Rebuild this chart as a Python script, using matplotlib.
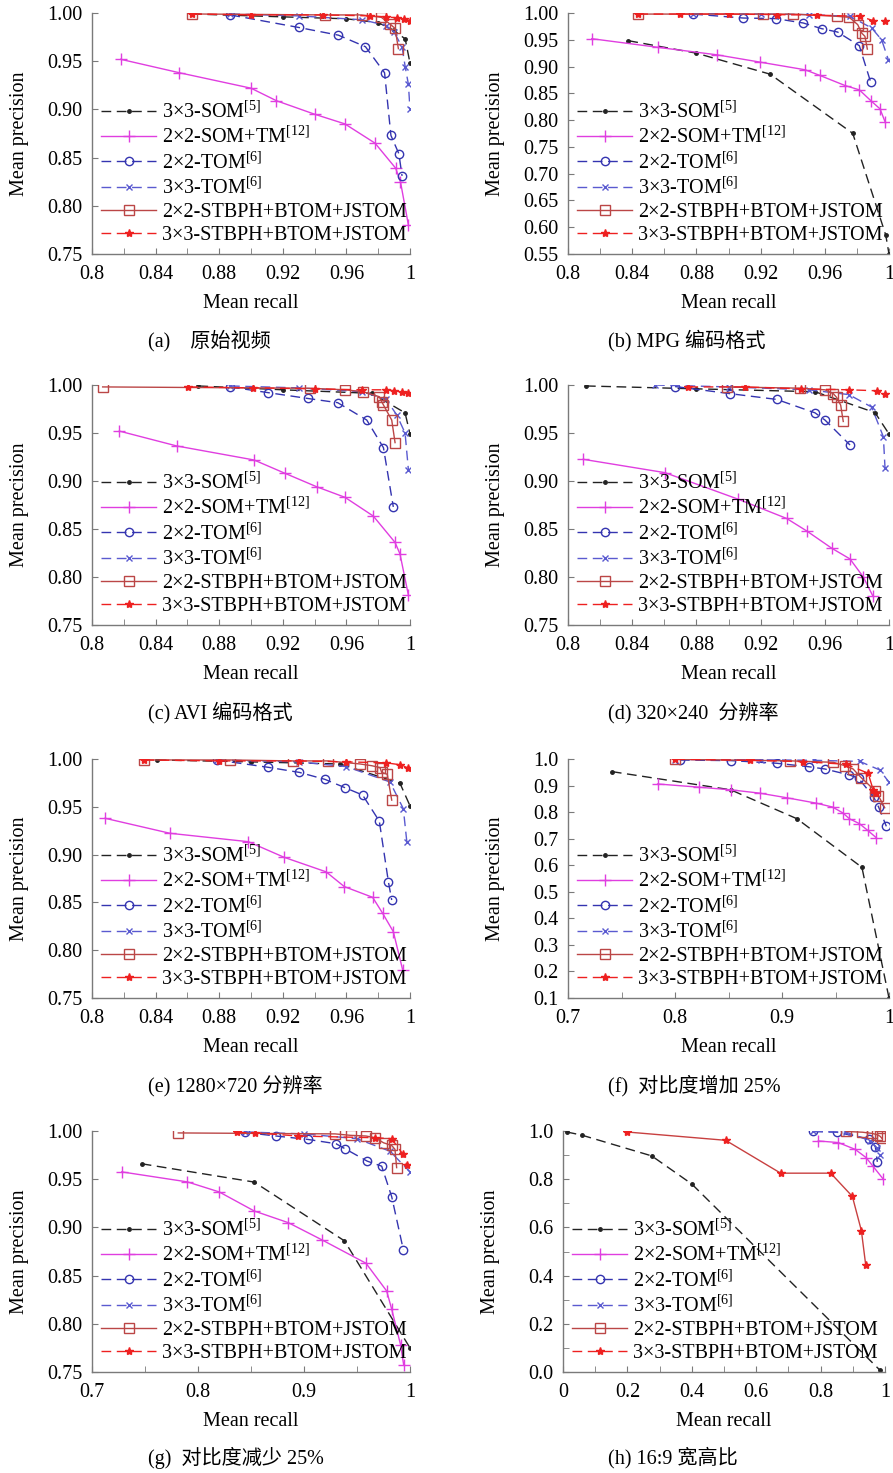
import matplotlib
matplotlib.use("Agg")
import matplotlib.pyplot as plt
from matplotlib.lines import Line2D
from matplotlib.ticker import MultipleLocator, FuncFormatter, FormatStrFormatter

plt.rcParams["font.family"] = ["Liberation Serif", "Noto Sans CJK SC"]
plt.rcParams["mathtext.fontset"] = "custom"
plt.rcParams["mathtext.rm"] = "Liberation Serif"
plt.rcParams["mathtext.it"] = "Liberation Serif:italic"

# -------------------------
# Series labels
# -------------------------
labels = [
    r"3×3-SOM$^{\mathrm{[5]}}$",
    r"2×2-SOM+TM$^{\mathrm{[12]}}$",
    r"2×2-TOM$^{\mathrm{[6]}}$",
    r"3×3-TOM$^{\mathrm{[6]}}$",
    "2×2-STBPH+BTOM+JSTOM",
    "3×3-STBPH+BTOM+JSTOM",
]

captions = [
    "(a)    原始视频", "(b) MPG 编码格式",
    "(c) AVI 编码格式", "(d) 320×240  分辨率",
    "(e) 1280×720 分辨率", "(f)  对比度增加 25%",
    "(g)  对比度减少 25%", "(h) 16:9 宽高比",
]

# -------------------------
# Data: (recall, precision) per panel and series
# -------------------------
a_som = ([0.863, 0.92, 0.96, 0.98, 0.99, 0.997, 1.0],
         [0.999, 0.996, 0.994, 0.99, 0.982, 0.973, 0.948])
a_somtm = ([0.818, 0.855, 0.900, 0.916, 0.940, 0.959, 0.978, 0.991, 0.994, 0.999],
           [0.952, 0.938, 0.922, 0.909, 0.895, 0.885, 0.865, 0.839, 0.825, 0.780])
a_tom2 = ([0.887, 0.93, 0.955, 0.972, 0.984, 0.988, 0.993, 0.995],
          [0.998, 0.985, 0.977, 0.965, 0.938, 0.873, 0.854, 0.831])
a_tom3 = ([0.887, 0.93, 0.97, 0.985, 0.99, 0.995, 0.997, 0.999, 1.0],
          [0.999, 0.997, 0.993, 0.987, 0.98, 0.965, 0.944, 0.926, 0.90])
a_stb2 = ([0.863, 0.9465, 0.9696, 0.982, 0.9874, 0.9906, 0.9927],
          [0.999, 0.998, 0.998, 0.9955, 0.9886, 0.984, 0.963])
a_stb3 = ([0.863, 0.90, 0.945, 0.975, 0.985, 0.992, 0.996, 1.0],
          [0.999, 0.998, 0.998, 0.997, 0.996, 0.995, 0.994, 0.992])

b_som = ([0.8376, 0.88, 0.9259, 0.9774, 0.998, 1.0],
         [0.9483, 0.925, 0.8858, 0.7753, 0.585, 0.55])
b_somtm = ([0.8148, 0.8563, 0.8926, 0.9196, 0.9477, 0.957, 0.9726, 0.9815, 0.9886, 0.9944, 0.9975],
           [0.952, 0.9358, 0.922, 0.9083, 0.894, 0.8833, 0.8646, 0.8565, 0.8365, 0.821, 0.7972])
b_tom2 = ([0.878, 0.9092, 0.9296, 0.9466, 0.958, 0.968, 0.9815, 0.9886],
          [0.998, 0.9906, 0.9895, 0.9813, 0.9708, 0.9644, 0.939, 0.8708])
b_tom3 = ([0.878, 0.92, 0.95, 0.9757, 0.9892, 0.9954, 0.9996],
          [0.999, 0.998, 0.997, 0.9938, 0.972, 0.950, 0.9127])
b_stb2 = ([0.8438, 0.9217, 0.9404, 0.9673, 0.9752, 0.9805, 0.983, 0.985, 0.9865],
          [0.998, 0.998, 0.998, 0.9938, 0.992, 0.9783, 0.9625, 0.9564, 0.9326])
b_stb3 = ([0.8438, 0.87, 0.90, 0.93, 0.955, 0.9819, 0.9902, 0.9975],
          [0.998, 0.998, 0.998, 0.997, 0.996, 0.9938, 0.9857, 0.9845])

c_som = ([0.8669, 0.92, 0.9759, 0.9969, 1.0],
         [0.999, 0.995, 0.9913, 0.971, 0.949])
c_somtm = ([0.8172, 0.8533, 0.9019, 0.9214, 0.9413, 0.9591, 0.9769, 0.9906, 0.9937, 0.999],
           [0.952, 0.9365, 0.9219, 0.908, 0.894, 0.883, 0.8635, 0.836, 0.824, 0.781])
c_tom2 = ([0.8868, 0.9109, 0.9356, 0.9545, 0.9728, 0.9833, 0.9895],
          [0.998, 0.992, 0.986, 0.9816, 0.9635, 0.9347, 0.873])
c_tom3 = ([0.8868, 0.93, 0.97, 0.985, 0.9916, 0.9969, 0.999],
          [0.999, 0.997, 0.993, 0.985, 0.969, 0.95, 0.9115])
c_stb2 = ([0.8067, 0.9371, 0.9591, 0.9706, 0.9807, 0.9822, 0.9833, 0.9885, 0.9906],
          [0.998, 0.9966, 0.995, 0.993, 0.9878, 0.9826, 0.9792, 0.9635, 0.94])
c_stb3 = ([0.8606, 0.9015, 0.94, 0.97, 0.985, 0.99, 0.995, 0.999],
          [0.998, 0.997, 0.996, 0.995, 0.995, 0.994, 0.993, 0.992])

d_som = ([0.8112, 0.88, 0.9539, 0.9913, 1.0],
         [0.999, 0.996, 0.993, 0.9712, 0.949])
d_somtm = ([0.8095, 0.8604, 0.9061, 0.9362, 0.9487, 0.9643, 0.9757, 0.984, 0.990],
           [0.9226, 0.9087, 0.881, 0.861, 0.848, 0.83, 0.8188, 0.80, 0.78])
d_tom2 = ([0.8667, 0.9009, 0.93, 0.9539, 0.9601, 0.9757],
          [0.9984, 0.991, 0.985, 0.971, 0.9635, 0.9375])
d_tom3 = ([0.8542, 0.90, 0.95, 0.975, 0.9892, 0.9965, 0.9975],
          [1.0, 0.998, 0.995, 0.99, 0.977, 0.946, 0.914])
d_stb2 = ([0.8989, 0.9445, 0.9601, 0.9653, 0.9674, 0.9699, 0.9715],
          [0.998, 0.9967, 0.995, 0.991, 0.987, 0.979, 0.962])
d_stb3 = ([0.875, 0.91, 0.945, 0.975, 0.9923, 0.9975],
          [0.998, 0.998, 0.996, 0.995, 0.994, 0.991])

e_som = ([0.8407, 0.90, 0.956, 0.9937, 1.0],
         [0.999, 0.997, 0.9948, 0.9746, 0.951])
e_somtm = ([0.8082, 0.849, 0.8983, 0.9208, 0.9472, 0.9587, 0.9765, 0.9828, 0.9895, 0.9954],
           [0.938, 0.9223, 0.9135, 0.8972, 0.882, 0.8665, 0.8553, 0.8386, 0.8194, 0.7793])
e_tom2 = ([0.8784, 0.9109, 0.9304, 0.9465, 0.9591, 0.9702, 0.9807, 0.9864, 0.9885],
          [0.999, 0.9913, 0.986, 0.9787, 0.97, 0.9623, 0.935, 0.8717, 0.8525])
e_tom3 = ([0.8784, 0.93, 0.96, 0.9874, 0.9958, 0.998],
          [0.999, 0.997, 0.992, 0.976, 0.948, 0.9135])
e_stb2 = ([0.8329, 0.8868, 0.9266, 0.9486, 0.9686, 0.9759, 0.9811, 0.9822, 0.9857, 0.9885],
          [0.999, 0.999, 0.998, 0.998, 0.9948, 0.993, 0.991, 0.986, 0.984, 0.957])
e_stb3 = ([0.8329, 0.88, 0.93, 0.96, 0.985, 0.9937, 0.999],
          [0.999, 0.998, 0.998, 0.997, 0.996, 0.994, 0.9905])

f_som = ([0.741, 0.852, 0.914, 0.9747, 1.0],
         [0.9525, 0.884, 0.775, 0.592, 0.1])
f_somtm = ([0.7837, 0.822, 0.852, 0.879, 0.9045, 0.9317, 0.9473, 0.957, 0.963, 0.9723, 0.98, 0.988],
           [0.906, 0.894, 0.884, 0.8715, 0.854, 0.834, 0.819, 0.7966, 0.775, 0.7566, 0.7315, 0.704])
f_tom2 = ([0.8047, 0.852, 0.895, 0.9248, 0.9399, 0.963, 0.9715, 0.9857, 0.9903, 0.9975],
          [0.996, 0.994, 0.984, 0.971, 0.9625, 0.94, 0.9275, 0.8565, 0.819, 0.7465])
f_tom3 = ([0.80, 0.88, 0.93, 0.9726, 0.9912, 1.0],
          [0.998, 0.997, 0.995, 0.991, 0.959, 0.9127])
f_stb2 = ([0.8003, 0.9077, 0.948, 0.9586, 0.9664, 0.9742, 0.9869, 0.99, 0.996],
          [0.999, 0.993, 0.9876, 0.975, 0.9625, 0.929, 0.881, 0.8625, 0.8165])
f_stb3 = ([0.8003, 0.87, 0.92, 0.9602, 0.9805, 0.9852, 0.988],
          [0.999, 0.995, 0.99, 0.98, 0.9463, 0.884, 0.871])

g_som = ([0.7469, 0.8531, 0.9382, 1.0],
         [0.966, 0.947, 0.886, 0.775])
g_somtm = ([0.728, 0.79, 0.82, 0.8531, 0.8852, 0.9167, 0.9585, 0.978, 0.9827, 0.9912, 0.994],
           [0.9576, 0.9472, 0.9368, 0.917, 0.9049, 0.8872, 0.8628, 0.834, 0.8153, 0.7778, 0.7576])
g_tom2 = ([0.8443, 0.8736, 0.9035, 0.9302, 0.9387, 0.9597, 0.9733, 0.9827, 0.9937],
          [0.9985, 0.9948, 0.9913, 0.9868, 0.9816, 0.9687, 0.9635, 0.932, 0.8768])
g_tom3 = ([0.8443, 0.90, 0.95, 0.9811, 1.0],
          [0.999, 0.997, 0.992, 0.979, 0.9576])
g_stb2 = ([0.7814, 0.9292, 0.944, 0.9585, 0.967, 0.975, 0.9827, 0.9858, 0.9874],
          [0.998, 0.997, 0.9955, 0.9948, 0.993, 0.9878, 0.985, 0.981, 0.962])
g_stb3 = ([0.8365, 0.854, 0.8946, 0.967, 0.9827, 0.993, 0.9969],
          [0.9985, 0.998, 0.9948, 0.993, 0.992, 0.9764, 0.965])

h_som = ([0.0114, 0.058, 0.2755, 0.40, 0.984],
         [0.996, 0.983, 0.8967, 0.78, 0.008])
h_somtm = ([0.7929, 0.855, 0.907, 0.941, 0.9617, 0.9948],
           [0.9587, 0.952, 0.924, 0.89, 0.8554, 0.80])
h_tom2 = ([0.777, 0.85, 0.9504, 0.97, 0.9762],
          [0.998, 0.995, 0.967, 0.935, 0.872])
h_tom3 = ([0.777, 0.88, 0.9534, 0.974, 0.985],
          [0.999, 0.995, 0.96, 0.931, 0.90])
h_stb2 = ([0.88, 0.93, 0.96, 0.975, 0.985, 0.99],
          [0.998, 0.995, 0.99, 0.985, 0.978, 0.97])
h_stb3 = ([0.1978, 0.505, 0.676, 0.8313, 0.8986, 0.9266, 0.94],
          [0.996, 0.9614, 0.825, 0.825, 0.7287, 0.5868, 0.445])

panel_data = [
    [a_som, a_somtm, a_tom2, a_tom3, a_stb2, a_stb3],
    [b_som, b_somtm, b_tom2, b_tom3, b_stb2, b_stb3],
    [c_som, c_somtm, c_tom2, c_tom3, c_stb2, c_stb3],
    [d_som, d_somtm, d_tom2, d_tom3, d_stb2, d_stb3],
    [e_som, e_somtm, e_tom2, e_tom3, e_stb2, e_stb3],
    [f_som, f_somtm, f_tom2, f_tom3, f_stb2, f_stb3],
    [g_som, g_somtm, g_tom2, g_tom3, g_stb2, g_stb3],
    [h_som, h_somtm, h_tom2, h_tom3, h_stb2, h_stb3],
]

# -------------------------
# Styles
# -------------------------
styles = [
    dict(color="#222222", ls=(0, (7, 4)), marker=".", ms=5, mfc="#222222"),
    dict(color="#e03ee0", ls="-", marker="+", ms=8, mfc="#e03ee0"),
    dict(color="#3434b0", ls=(0, (7, 4)), marker="o", ms=6, mfc="none"),
    dict(color="#5a5ad0", ls=(0, (7, 4)), marker="x", ms=4, mfc="#5a5ad0"),
    dict(color="#bb4646", ls="-", marker="s", ms=7, mfc="none"),
    dict(color="#ee2020", ls=(0, (7, 4)), marker="*", ms=6, mfc="#ee2020"),
]

# axis setup per panel: xlim, x major, x minor, ylim, y major, y minor, y format
axis_cfg = [
    ((0.8, 1.0), 0.04, 0.02, (0.75, 1.0), 0.05, 0.05, "%.2f"),
    ((0.8, 1.0), 0.04, 0.02, (0.55, 1.0), 0.05, 0.05, "%.2f"),
    ((0.8, 1.0), 0.04, 0.02, (0.75, 1.0), 0.05, 0.05, "%.2f"),
    ((0.8, 1.0), 0.04, 0.02, (0.75, 1.0), 0.05, 0.05, "%.2f"),
    ((0.8, 1.0), 0.04, 0.02, (0.75, 1.0), 0.05, 0.05, "%.2f"),
    ((0.7, 1.0), 0.1, 0.05, (0.1, 1.0), 0.1, 0.1, "%.1f"),
    ((0.7, 1.0), 0.1, 0.05, (0.75, 1.0), 0.05, 0.05, "%.2f"),
    ((0.0, 1.0), 0.2, 0.1, (0.0, 1.0), 0.2, 0.1, "%.1f"),
]

W, H = 893, 1473
fig = plt.figure(figsize=(W / 100, H / 100), dpi=100)

col_px = [(92, 410), (568, 889)]
row_px = [(13, 254), (385, 625), (759, 998), (1131, 1372)]
caption_y = [341, 713, 1086, 1458]
caption_x = [148, 608]
FS = 14.5

legend_handles = [
    Line2D([], [], lw=1.0, mew=1.0, **s) for s in styles
]

for i in range(8):
    r, c = divmod(i, 2)
    x0, x1 = col_px[c]
    if i == 7:
        x0, x1 = 563, 885
    y0, y1 = row_px[r]
    ax = fig.add_axes([x0 / W, 1 - y1 / H, (x1 - x0) / W, (y1 - y0) / H])

    for (rec, prec), s in zip(panel_data[i], styles):
        kw = dict(s)
        if i == 7 and s["marker"] == "*":
            kw["ls"] = "-"
            kw["color"] = "#c84040"
            kw["mfc"] = "#ee2020"
            kw["mec"] = "#ee2020"
        ax.plot(rec, prec, lw=1.0, mew=1.0, **kw)

    xlim, xmaj, xmin, ylim, ymaj, ymin, yfmt = axis_cfg[i]
    ax.set_xlim(*xlim)
    ax.set_ylim(*ylim)
    ax.xaxis.set_major_locator(MultipleLocator(xmaj))
    ax.xaxis.set_minor_locator(MultipleLocator(xmin))
    ax.yaxis.set_major_locator(MultipleLocator(ymaj))
    ax.yaxis.set_minor_locator(MultipleLocator(ymin))
    ax.xaxis.set_major_formatter(FuncFormatter(lambda v, _: f"{v:g}"))
    ax.yaxis.set_major_formatter(FormatStrFormatter(yfmt))

    for side in ["top", "right"]:
        ax.spines[side].set_visible(False)
    for side in ["left", "bottom"]:
        ax.spines[side].set_color("#7a7a7a")
        ax.spines[side].set_linewidth(1.0)
    ax.tick_params(which="both", direction="in", color="#7a7a7a",
                   labelsize=FS, length=4)
    ax.tick_params(axis="x", which="both", pad=8)
    ax.tick_params(axis="y", which="both", pad=7)

    ax.set_xlabel("Mean recall", fontsize=FS)
    ax.set_ylabel("Mean precision", fontsize=FS)
    ax.xaxis.set_label_coords(0.5, -40 / (y1 - y0))
    ax.yaxis.set_label_coords(-63 / (x1 - x0), 0.5)

    ax.legend(legend_handles, labels, loc="lower left",
              bbox_to_anchor=(0.0, 0.0), frameon=False, fontsize=FS,
              handlelength=2.75, handletextpad=0.3, labelspacing=0.2,
              borderpad=0.1, borderaxespad=0.35)

    fig.text(caption_x[c] / W, 1 - caption_y[r] / H, captions[i],
             ha="left", va="center", fontsize=FS)

fig.savefig("out.png", dpi=100)
plt.close(fig)
